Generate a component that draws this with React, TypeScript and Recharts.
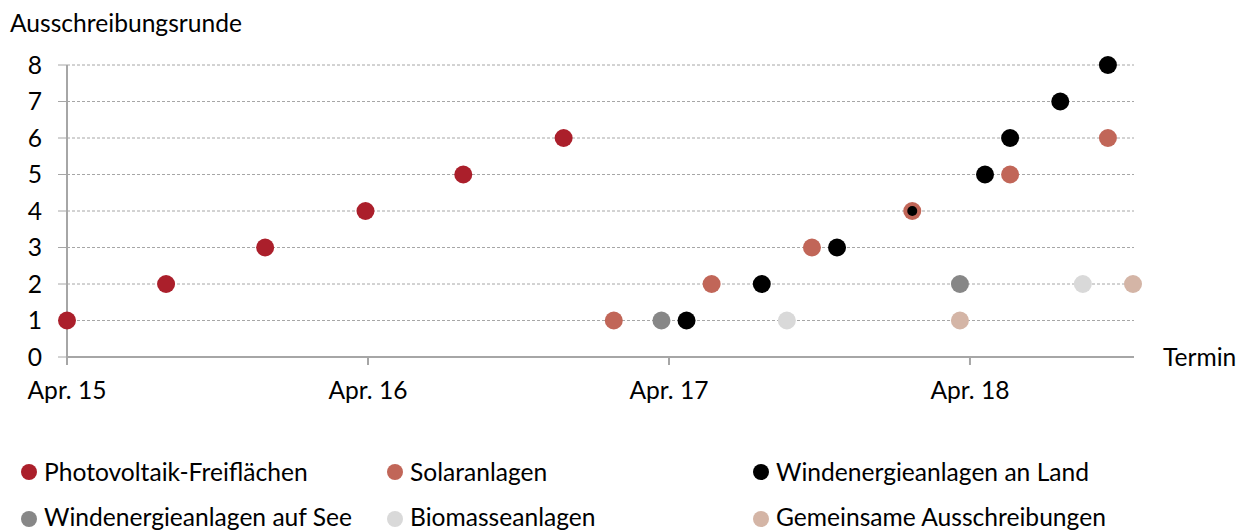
import { ScatterChart, Scatter, XAxis, YAxis, CartesianGrid, Legend, Label } from "recharts";

// x values: months counted from April 2015
const tickMonths = [0, 12, 24, 36];
const tickLabels = ["Apr. 15", "Apr. 16", "Apr. 17", "Apr. 18"];
const roundTicks = [0, 1, 2, 3, 4, 5, 6, 7, 8];

const pvMonths = [0, 3.95, 7.9, 11.9, 15.8, 19.8];
const pvRounds = [1, 2, 3, 4, 5, 6];

const solarMonths = [21.8, 25.7, 29.7, 33.7, 37.6, 41.5];
const solarRounds = [1, 2, 3, 4, 5, 6];

const windLandMonths = [24.7, 27.7, 30.7, 33.7, 36.6, 37.6, 39.6, 41.5];
const windLandRounds = [1, 2, 3, 4, 5, 6, 7, 8];

const windSeaMonths = [23.7, 35.6];
const windSeaRounds = [1, 2];

const bioMonths = [28.7, 40.5];
const bioRounds = [1, 2];

const jointMonths = [35.6, 42.5];
const jointRounds = [1, 2];

const zip = (xs: number[], ys: number[]) => xs.map((x, i) => ({ x, y: ys[i] }));

const series = [
  { name: "Photovoltaik-Freiflächen", color: "#ab1f2b", data: zip(pvMonths, pvRounds) },
  { name: "Solaranlagen", color: "#c16658", data: zip(solarMonths, solarRounds) },
  { name: "Windenergieanlagen an Land", color: "#000000", data: zip(windLandMonths, windLandRounds) },
  { name: "Windenergieanlagen auf See", color: "#878787", data: zip(windSeaMonths, windSeaRounds) },
  { name: "Biomasseanlagen", color: "#d9d9d9", data: zip(bioMonths, bioRounds) },
  { name: "Gemeinsame Ausschreibungen", color: "#d4b5a6", data: zip(jointMonths, jointRounds) },
];

const FONT = "Lato";
const FS = 24.6;
const GRID = "#a6a6a6";

// wind-on-land round 4 sits on top of solar round 4: draw it smaller
const isOnSolar = (x: number, y: number) =>
  solarMonths.some((m, i) => m === x && solarRounds[i] === y);

const makeShape = (color: string, checkOverlap: boolean) => (p: any) => {
  const r = checkOverlap && p.payload && isOnSolar(p.payload.x, p.payload.y) ? 5 : 9;
  return <circle cx={p.cx} cy={p.cy} r={r} fill={color} />;
};

const legendCols = [29, 395, 761];
const legendRows = [32, 79]; // marker centres, relative to legend top (440)
const legendBase = [41, 86]; // text baselines

const LegendBox = () => (
  <svg width={1246} height={91} style={{ display: "block", overflow: "visible" }}>
    {series.map((s, i) => {
      const cx = legendCols[i % 3];
      const row = Math.floor(i / 3);
      return (
        <g key={s.name}>
          <circle cx={cx} cy={legendRows[row]} r={8} fill={s.color} />
          <text x={cx + 15} y={legendBase[row]} fontSize={FS} fontFamily={FONT} fill="#000">
            {s.name}
          </text>
        </g>
      );
    })}
  </svg>
);

export default function App() {
  return (
    <div style={{ position: "absolute", left: 0, top: 0, width: 1246, height: 531, background: "#fff", fontFamily: FONT, overflow: "hidden" }}>
      <ScatterChart width={1246} height={531} margin={{ top: 65, right: 112, bottom: 134, left: 0 }}>
        <CartesianGrid horizontal vertical={false} stroke={GRID} strokeDasharray="3 2" />
        <XAxis
          type="number"
          dataKey="x"
          domain={[0, 42.54]}
          ticks={tickMonths}
          tickFormatter={(v: number) => tickLabels[tickMonths.indexOf(v)]}
          height={40}
          tickSize={8}
          tickMargin={17}
          axisLine={{ stroke: GRID, strokeWidth: 2 }}
          tickLine={{ stroke: GRID, strokeWidth: 2 }}
          tick={{ fill: "#000", fontSize: FS, fontFamily: FONT }}
          interval={0}
        >
          <Label
            content={(props: any) => {
              const vb = props.viewBox || {};
              return (
                <text x={vb.x + vb.width + 29} y={vb.y + 9} fontSize={FS} fontFamily={FONT} fill="#000">
                  Termin
                </text>
              );
            }}
          />
        </XAxis>
        <YAxis
          type="number"
          dataKey="y"
          domain={[0, 8]}
          ticks={roundTicks}
          width={67}
          tickSize={9}
          tickMargin={16}
          axisLine={{ stroke: GRID, strokeWidth: 2 }}
          tickLine={{ stroke: GRID, strokeWidth: 1 }}
          tick={{ fill: "#000", fontSize: FS, fontFamily: FONT }}
          interval={0}
        >
          <Label
            content={(props: any) => {
              const vb = props.viewBox || {};
              return (
                <text x={10} y={vb.y - 33} fontSize={FS} fontFamily={FONT} fill="#000">
                  Ausschreibungsrunde
                </text>
              );
            }}
          />
        </YAxis>
        <Legend
          layout="horizontal"
          verticalAlign="middle"
          align="center"
          wrapperStyle={{ left: 0, top: 440, width: 1246, height: 91 }}
          content={() => <LegendBox />}
        />
        {series.map((s) => (
          <Scatter
            key={s.name}
            name={s.name}
            data={s.data}
            fill={s.color}
            isAnimationActive={false}
            shape={makeShape(s.color, s.name === "Windenergieanlagen an Land")}
          />
        ))}
      </ScatterChart>
    </div>
  );
}
